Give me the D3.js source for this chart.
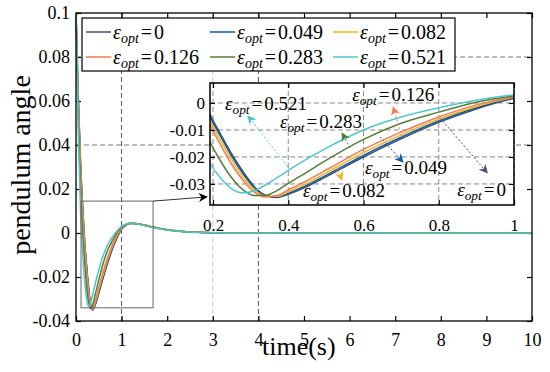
<!DOCTYPE html>
<html>
<head>
<meta charset="utf-8">
<script src="https://cdn.jsdelivr.net/npm/d3@7"></script>
<style>body{margin:0;background:#fff}</style>
</head>
<body>
<svg width="550" height="372"></svg>
<script>
// time samples (s) shared by every response
var times = [0, 0.05, 0.1, 0.15, 0.19, 0.22, 0.25, 0.28, 0.31, 0.34, 0.37, 0.4, 0.45, 0.5, 0.6, 0.7, 0.8, 0.9, 1.0,
    1.1, 1.2, 1.3, 1.45, 1.6, 1.8, 2.0, 2.3, 2.6, 3.0, 3.5, 4, 5, 6, 7, 8, 9, 10];

var angleEps0 = [0.1, 0.062, 0.032, 0.011, -0.0037, -0.0115, -0.019, -0.0255, -0.031, -0.0342, -0.035, -0.0338, -0.031, -0.0274,
    -0.02, -0.0133, -0.0072, -0.0022, 0.0017, 0.0036, 0.0043, 0.0043, 0.0038, 0.0031, 0.0022, 0.0015, 0.0008, 0.0004, 0.0001,
    0, 0, 0, 0, 0, 0, 0, 0];
var angleEps049 = [0.1, 0.061, 0.031, 0.010, -0.0045, -0.0123, -0.0198, -0.0262, -0.0314, -0.0344, -0.0349, -0.0335, -0.0305, -0.0268,
    -0.0194, -0.0127, -0.0067, -0.0018, 0.0019, 0.0037, 0.0043, 0.0043, 0.0038, 0.0031, 0.0022, 0.0015, 0.0008, 0.0004, 0.0001,
    0, 0, 0, 0, 0, 0, 0, 0];
var angleEps082 = [0.1, 0.060, 0.029, 0.008, -0.006, -0.0138, -0.0212, -0.0274, -0.0322, -0.0346, -0.0346, -0.0329, -0.0297, -0.0259,
    -0.0184, -0.0118, -0.006, -0.0013, 0.0021, 0.0038, 0.0044, 0.0043, 0.0038, 0.0031, 0.0022, 0.0015, 0.0008, 0.0004, 0.0001,
    0, 0, 0, 0, 0, 0, 0, 0];
var angleEps126 = [0.1, 0.058, 0.027, 0.006, -0.0075, -0.0155, -0.0228, -0.0287, -0.033, -0.0348, -0.0343, -0.0322, -0.0288, -0.0249,
    -0.0172, -0.0108, -0.0052, -0.0007, 0.0023, 0.0039, 0.0044, 0.0043, 0.0038, 0.0031, 0.0022, 0.0015, 0.0008, 0.0004, 0.0001,
    0, 0, 0, 0, 0, 0, 0, 0];
var angleEps283 = [0.1, 0.052, 0.019, -0.002, -0.014, -0.0215, -0.0278, -0.0322, -0.0343, -0.0342, -0.0325, -0.0298, -0.0256, -0.0213,
    -0.0135, -0.0075, -0.0034, 0.0003, 0.0026, 0.004, 0.0045, 0.0043, 0.0037, 0.003, 0.0021, 0.0014, 0.0007, 0.0003, 0.0001,
    0, 0, 0, 0, 0, 0, 0, 0];
var angleEps521 = [0.1, 0.045, 0.010, -0.010, -0.022, -0.0278, -0.0318, -0.0333, -0.0325, -0.0303, -0.0277, -0.025, -0.0207, -0.0168,
    -0.01, -0.0052, -0.0018, 0.001, 0.003, 0.0041, 0.0045, 0.0043, 0.0036, 0.0029, 0.002, 0.0013, 0.0007, 0.0003, 0.0001,
    0, 0, 0, 0, 0, 0, 0, 0];

var epsLabels = ["0", "0.049", "0.082", "0.126", "0.283", "0.521"];
var epsColors = ["#45506e", "#0b5ba8", "#f2b41c", "#f47a4e", "#587c3a", "#4fc6ca"];
var epsValues = [angleEps0, angleEps049, angleEps082, angleEps126, angleEps283, angleEps521];

var xTicks = [0, 1, 2, 3, 4, 5, 6, 7, 8, 9, 10];
var yTicks = [-0.04, -0.02, 0, 0.02, 0.04, 0.06, 0.08, 0.1];
var insetXTicks = [0.2, 0.4, 0.6, 0.8, 1];
var insetYTicks = [-0.03, -0.02, -0.01, 0];

// inset annotations: arrow tail, arrow head, label anchor (inset data coords)
var notes = [
    {i: 5, from: [0.405, -0.0248], to: [0.293, -0.0048], at: [0.232, -0.0026]},
    {i: 4, from: [0.564, -0.0167], to: [0.543, -0.0111], at: [0.378, -0.0093]},
    {i: 3, from: [0.702, -0.0125], to: [0.679, -0.0015], at: [0.570, 0.0007]},
    {i: 1, from: [0.644, -0.0126], to: [0.705, -0.0219], at: [0.604, -0.0263]},
    {i: 2, from: [0.530, -0.0241], to: [0.543, -0.0285], at: [0.439, -0.0348]},
    {i: 0, from: [0.804, -0.0056], to: [0.929, -0.0259], at: [0.849, -0.0344]}
];

var font = "'Liberation Serif', 'DejaVu Serif', serif";
var series = epsLabels.map((l, i) => ({label: l, color: epsColors[i],
    points: times.map((t, j) => [t, epsValues[i][j]])}));

var svg = d3.select("svg");
var defs = svg.append("defs");
epsColors.concat(["#000"]).forEach((c, i) => {
    defs.append("marker")
        .attr("id", "ah" + i)
        .attr("viewBox", "0 0 10 10")
        .attr("refX", 9).attr("refY", 5)
        .attr("markerWidth", 9).attr("markerHeight", 9)
        .attr("markerUnits", "userSpaceOnUse")
        .attr("orient", "auto")
        .append("path")
        .attr("d", "M0,0L10,5L0,10L3,5Z")
        .attr("fill", c);
});

var padL = 76, padR = 532, padT = 13, padB = 321;
var x = d3.scaleLinear().domain([0, 10]).range([padL, padR]);
var y = d3.scaleLinear().domain([-0.04, 0.1]).range([padB, padT]);
var fmt = d => String(+d.toFixed(3));

// dashed guide lines
var grid = svg.append("g").attr("fill", "none").attr("stroke-dasharray", "5,3");
[[1, "#555"], [3, "#c8c8c8"], [4, "#555"]].forEach(g => {
    grid.append("line").attr("x1", x(g[0])).attr("x2", x(g[0])).attr("y1", padT).attr("y2", padB).attr("stroke", g[1]);
});
[0.04, 0.08].forEach(v => {
    grid.append("line").attr("x1", padL).attr("x2", padR).attr("y1", y(v)).attr("y2", y(v)).attr("stroke", "#777");
});

function styleAxis(g, size) {
    g.select(".domain").remove();
    g.selectAll("line").attr("stroke", "#000").attr("stroke-width", 1.2);
    g.selectAll("text").attr("font-family", font).attr("font-size", size).attr("fill", "#000");
}

svg.append("g").attr("transform", "translate(0," + padB + ")")
    .call(d3.axisBottom(x).tickValues(xTicks).tickFormat(fmt).tickSizeInner(-5).tickSizeOuter(0).tickPadding(12))
    .call(g => styleAxis(g, 18));
svg.append("g").attr("transform", "translate(0," + padT + ")")
    .call(d3.axisTop(x).tickValues(xTicks).tickFormat("").tickSizeInner(-5).tickSizeOuter(0))
    .call(g => styleAxis(g, 18));
svg.append("g").attr("transform", "translate(" + padL + ",0)")
    .call(d3.axisLeft(y).tickValues(yTicks).tickFormat(fmt).tickSizeInner(-5).tickSizeOuter(0).tickPadding(6))
    .call(g => styleAxis(g, 18));
svg.append("g").attr("transform", "translate(" + padR + ",0)")
    .call(d3.axisRight(y).tickValues(yTicks).tickFormat("").tickSizeInner(-5).tickSizeOuter(0))
    .call(g => styleAxis(g, 18));

var line = d3.line().x(d => x(d[0])).y(d => y(d[1])).curve(d3.curveMonotoneX);
svg.append("g").selectAll("path").data(series).join("path")
    .attr("d", d => line(d.points))
    .attr("fill", "none").attr("stroke", d => d.color).attr("stroke-width", 1.5);

svg.append("rect").attr("x", padL).attr("y", padT).attr("width", padR - padL).attr("height", padB - padT)
    .attr("fill", "none").attr("stroke", "#000").attr("stroke-width", 1.3);

// zoom box and connector
svg.append("rect").attr("x", x(0.11)).attr("y", y(0.0145))
    .attr("width", x(1.69) - x(0.11)).attr("height", y(-0.034) - y(0.0145))
    .attr("fill", "none").attr("stroke", "#666").attr("stroke-width", 1);
svg.append("line").attr("x1", x(1.69)).attr("y1", y(0.0145)).attr("x2", x(2.87)).attr("y2", y(0.0164))
    .attr("stroke", "#333").attr("stroke-width", 1).attr("marker-end", "url(#ah6)");

// axis titles
svg.append("text").attr("transform", "translate(30,165) rotate(-90)")
    .attr("text-anchor", "middle").attr("font-family", font).attr("font-size", 28).text("pendulum angle");
svg.append("text").attr("x", 262).attr("y", 355)
    .attr("font-family", font).attr("font-size", 26).text("time(s)");

function epsText(sel, label, size) {
    sel.attr("font-family", font).attr("font-size", size);
    sel.append("tspan").attr("font-style", "italic").text("\u03b5");
    sel.append("tspan").attr("font-style", "italic").attr("font-size", size * 0.7).attr("dy", size * 0.22).text("opt");
    sel.append("tspan").attr("dy", -size * 0.22).attr("dx", 2).text("=");
    sel.append("tspan").attr("dx", 2).text(label);
}

// legend
var legend = svg.append("g");
legend.append("rect").attr("x", 82).attr("y", 18).attr("width", 373).attr("height", 53)
    .attr("fill", "#fff").attr("stroke", "#000").attr("stroke-width", 1.2);
var colX = [86, 210, 333];
series.forEach((s, i) => {
    var cx = colX[i % 3], cy = i < 3 ? 32 : 57;
    legend.append("line").attr("x1", cx).attr("x2", cx + 25).attr("y1", cy).attr("y2", cy)
        .attr("stroke", s.color).attr("stroke-width", 1.5);
    legend.append("text").attr("x", cx + 27).attr("y", cy + 7).call(t => epsText(t, s.label, 20));
});

// inset
var ix = d3.scaleLinear().domain([0.192, 1.0]).range([210, 514]);
var iy = d3.scaleLinear().domain([-0.0378, 0.0074]).range([205, 83]);
var inset = svg.append("g");
inset.append("rect").attr("x", 210).attr("y", 83).attr("width", 304).attr("height", 122).attr("fill", "#fff");
defs.append("clipPath").attr("id", "iclip").append("rect").attr("x", 210).attr("y", 83).attr("width", 304).attr("height", 122);

var igrid = inset.append("g").attr("stroke", "#888").attr("stroke-dasharray", "5,3");
insetXTicks.forEach(v => igrid.append("line").attr("x1", ix(v)).attr("x2", ix(v)).attr("y1", 83).attr("y2", 205));
insetYTicks.forEach(v => igrid.append("line").attr("x1", 210).attr("x2", 514).attr("y1", iy(v)).attr("y2", iy(v)));

var iline = d3.line().x(d => ix(d[0])).y(d => iy(d[1])).curve(d3.curveMonotoneX);
inset.append("g").attr("clip-path", "url(#iclip)").selectAll("path").data(series).join("path")
    .attr("d", d => iline(d.points))
    .attr("fill", "none").attr("stroke", d => d.color).attr("stroke-width", 1.5);

inset.append("g").attr("transform", "translate(0,205)")
    .call(d3.axisBottom(ix).tickValues(insetXTicks).tickFormat(fmt).tickSizeInner(-5).tickSizeOuter(0).tickPadding(14))
    .call(g => styleAxis(g, 17));
inset.append("g").attr("transform", "translate(0,83)")
    .call(d3.axisTop(ix).tickValues(insetXTicks).tickFormat("").tickSizeInner(-5).tickSizeOuter(0))
    .call(g => styleAxis(g, 17));
inset.append("g").attr("transform", "translate(210,0)")
    .call(d3.axisLeft(iy).tickValues(insetYTicks).tickFormat(fmt).tickSizeInner(-5).tickSizeOuter(0).tickPadding(5))
    .call(g => styleAxis(g, 17));
inset.append("g").attr("transform", "translate(514,0)")
    .call(d3.axisRight(iy).tickValues(insetYTicks).tickFormat("").tickSizeInner(-5).tickSizeOuter(0))
    .call(g => styleAxis(g, 17));

notes.forEach(n => {
    inset.append("line")
        .attr("x1", ix(n.from[0])).attr("y1", iy(n.from[1]))
        .attr("x2", ix(n.to[0])).attr("y2", iy(n.to[1]))
        .attr("stroke", epsColors[n.i]).attr("stroke-width", 1).attr("stroke-dasharray", "2,2")
        .attr("marker-end", "url(#ah" + n.i + ")");
    inset.append("text").attr("x", ix(n.at[0])).attr("y", iy(n.at[1]))
        .call(t => epsText(t, epsLabels[n.i], 19));
});

inset.append("rect").attr("x", 210).attr("y", 83).attr("width", 304).attr("height", 122)
    .attr("fill", "none").attr("stroke", "#000").attr("stroke-width", 1.5);
</script>
</body>
</html>
